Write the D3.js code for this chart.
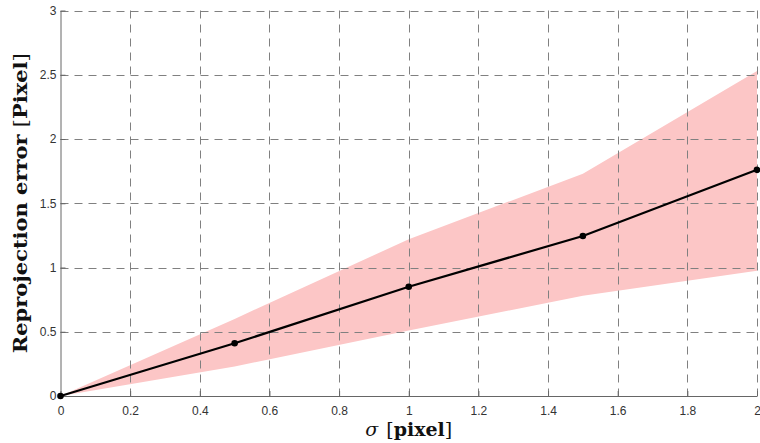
<!DOCTYPE html>
<html><head><meta charset="utf-8">
<script src="https://cdn.jsdelivr.net/npm/d3@7"></script>
<style>body{margin:0;background:#fff}svg{display:block}</style>
</head><body>
<svg id="c" width="760" height="443"></svg>
<script>
const sigma = [0, 0.5, 1, 1.5, 2];
const meanErr = [0, 0.41, 0.85, 1.245, 1.76];
const upperErr = [0, 0.6, 1.22, 1.73, 2.53];
const lowerErr = [0, 0.23, 0.51, 0.78, 0.975];
const xTicks = [0, 0.2, 0.4, 0.6, 0.8, 1, 1.2, 1.4, 1.6, 1.8, 2];
const yTicks = [0, 0.5, 1, 1.5, 2, 2.5, 3];

const svg = d3.select("#c");
const L = 60.5, R = 757, T = 10.5, B = 396;
const x = d3.scaleLinear().domain([0, 2]).range([L, R]);
const y = d3.scaleLinear().domain([0, 3]).range([B, T]);
const data = sigma.map((s, i) => ({s, m: meanErr[i], u: upperErr[i], l: lowerErr[i]}));

// band
svg.append("path").datum(data)
  .attr("fill", "#fcc6c6")
  .attr("d", d3.area().x(d => x(d.s)).y0(d => y(d.l)).y1(d => y(d.u)));

// grid
const g = svg.append("g").attr("stroke", "#808080").attr("stroke-width", 1).attr("stroke-dasharray", "8,6");
g.selectAll(".vx").data(xTicks.slice(1)).join("line")
  .attr("x1", d => Math.round(x(d)) + 0.5).attr("x2", d => Math.round(x(d)) + 0.5)
  .attr("y1", T).attr("y2", B);
g.selectAll(".hy").data(yTicks.slice(1)).join("line")
  .attr("y1", d => Math.round(y(d)) + 0.5).attr("y2", d => Math.round(y(d)) + 0.5)
  .attr("x1", L).attr("x2", R);

// axes
const xa = svg.append("g").attr("transform", `translate(0,${B})`)
  .call(d3.axisBottom(x).tickValues(xTicks).tickFormat(d3.format("~g")).tickSizeOuter(0).tickSizeInner(-5).tickPadding(10));
const ya = svg.append("g").attr("transform", `translate(${L},0)`)
  .call(d3.axisLeft(y).tickValues(yTicks).tickFormat(d3.format("~g")).tickSizeOuter(0).tickSizeInner(-5).tickPadding(4));
[xa, ya].forEach(a => {
  a.select(".domain").attr("stroke", "#666");
  a.selectAll(".tick line").attr("stroke", "#666");
  a.selectAll("text").attr("font-family", "Liberation Sans, Arial, sans-serif").attr("font-size", 12).attr("fill", "#333");
});

// line
svg.append("path").datum(data)
  .attr("fill", "none").attr("stroke", "#000").attr("stroke-width", 2.2)
  .attr("d", d3.line().x(d => x(d.s)).y(d => y(d.m)));
svg.selectAll(".pt").data(data).join("circle")
  .attr("cx", d => x(d.s)).attr("cy", d => y(d.m)).attr("r", 3.3)
  .attr("fill", "#000");

// labels
const xl = svg.append("text").attr("x", (L + R) / 2).attr("y", 436)
  .attr("text-anchor", "middle").attr("font-family", "DejaVu Serif, serif").attr("font-size", 19).attr("fill", "#111");
xl.append("tspan").attr("font-style", "italic").text("σ");
xl.append("tspan").attr("dx", 8).text("[");
xl.append("tspan").attr("font-weight", "bold").text("pixel");
xl.append("tspan").text("]");

const yl = svg.append("text").attr("transform", `translate(27,${(T + B) / 2}) rotate(-90)`)
  .attr("text-anchor", "middle").attr("font-family", "DejaVu Serif, serif").attr("font-size", 19).attr("fill", "#111")
  .attr("font-weight", "bold").attr("textLength", 300).attr("lengthAdjust", "spacingAndGlyphs");
yl.append("tspan").text("Reprojection error ");
yl.append("tspan").attr("font-weight", "normal").text("[");
yl.append("tspan").text("Pixel");
yl.append("tspan").attr("font-weight", "normal").text("]");
</script>
</body></html>
